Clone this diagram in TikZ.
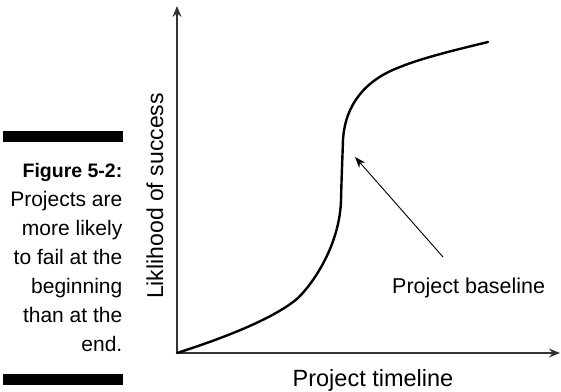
\documentclass[tikz,border=0pt]{standalone}
\usepackage{fontspec}
\setmainfont{Liberation Sans}
\usetikzlibrary{arrows.meta}
\begin{document}
\begin{tikzpicture}[x=1pt,y=-1pt,
  axisline/.style={draw=black!80,line width=1.3pt},
  curveline/.style={draw=black,line width=2.4pt},
  pointer/.style={draw=black,line width=0.9pt,-{Stealth[length=11pt,width=8pt]}},
  capline/.style={anchor=base east,inner sep=0pt,font=\fontsize{21}{29}\selectfont},
  bar/.style={fill=black}]
\useasboundingbox (0,0) rectangle (561,391);
% caption
\fill[bar] (3,131) rectangle (123,142);
\fill[bar] (3,374) rectangle (123,385);
\node[capline,font=\fontsize{19.5}{29}\bfseries] (c1) at (122.5,177) {Figure 5-2:};
\node[capline] (c2) at (122.5,206) {Projects are};
\node[capline] (c3) at (122.5,235) {more likely};
\node[capline] (c4) at (122.5,264) {to fail at the};
\node[capline] (c5) at (122.5,293) {beginning};
\node[capline] (c6) at (122.5,322) {than at the};
\node[capline] (c7) at (122.5,351) {end.};
% axes
\coordinate (O) at (177,353);
\coordinate (Y) at (177,6);
\coordinate (X) at (560,353);
\draw[axisline,-{Stealth[length=11pt,width=9pt]}] (O) -- (Y);
\draw[axisline,-{Stealth[length=11pt,width=9pt]}] (O) -- (X);
\node[rotate=90,anchor=base,inner sep=0pt,font=\fontsize{23}{27}\selectfont] (ylab) at (163,196) {Liklihood of success};
\node[anchor=base,inner sep=0pt,font=\fontsize{23.5}{27}\selectfont] (xlab) at (373,386.5) {Project timeline};
% curve
\draw[curveline,line cap=round]
  (O) .. controls (230,336) and (276,317) .. (298,298)
      .. controls (318,278) and (340,240) .. (341,200)
      .. controls (341.5,180) and (342.3,160) .. (343,140)
      .. controls (345,105) and (365,80) .. (400,67)
      .. controls (422,58) and (455,50) .. (488,42);
% pointer
\node[anchor=base west,inner sep=0pt,font=\fontsize{21.5}{27}\selectfont] (pb) at (392,293) {Project baseline};
\coordinate (tail) at (443,257);
\coordinate (tip) at (355,157);
\draw[pointer] (tail) -- (tip);
\end{tikzpicture}
\end{document}
